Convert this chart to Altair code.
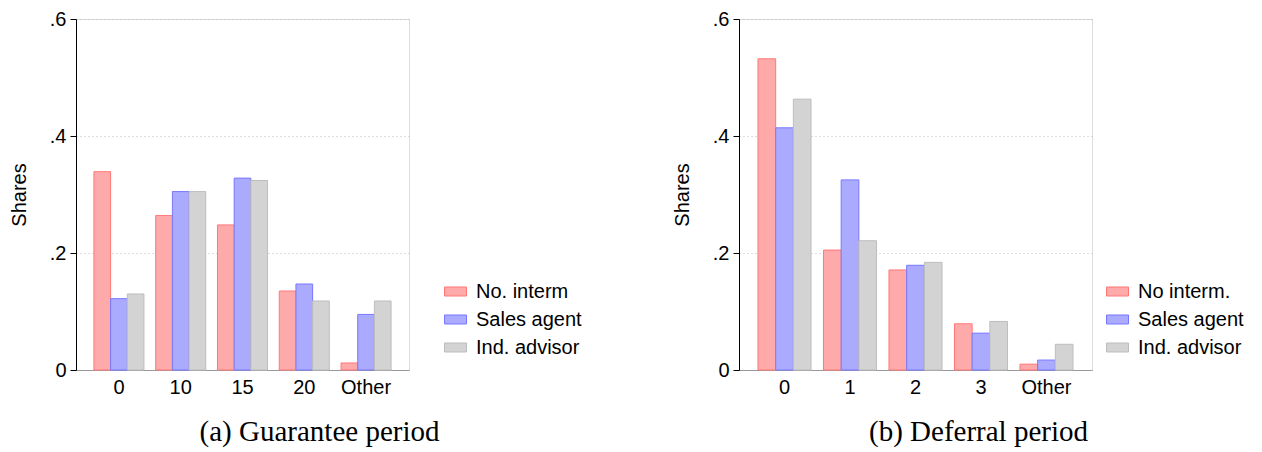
import altair as alt
import pandas as pd

# ---- data ----
cats_a = ["0", "10", "15", "20", "Other"]
cats_b = ["0", "1", "2", "3", "Other"]
groups_a = ["No. interm", "Sales agent", "Ind. advisor"]
groups_b = ["No interm.", "Sales agent", "Ind. advisor"]

no_interm_a = [0.339, 0.264, 0.248, 0.135, 0.012]
sales_agent_a = [0.122, 0.305, 0.328, 0.147, 0.095]
ind_advisor_a = [0.130, 0.305, 0.324, 0.118, 0.118]

no_interm_b = [0.532, 0.205, 0.171, 0.079, 0.010]
sales_agent_b = [0.414, 0.325, 0.179, 0.063, 0.017]
ind_advisor_b = [0.463, 0.221, 0.184, 0.083, 0.044]

y_ticks = [0, 0.2, 0.4, 0.6]
fill_colors = ["#FFAAAA", "#AAAAFF", "#D3D3D3"]
stroke_colors = ["#FF7878", "#7878FF", "#BDBDBD"]

FONT = "Liberation Sans"
SERIF = "Liberation Serif"


def make_df(cats, groups, series):
    rows = []
    for g, vals in zip(groups, series):
        for c, v in zip(cats, vals):
            rows.append({"cat": c, "group": g, "value": v})
    return pd.DataFrame(rows)


def panel(cats, groups, series, width, legend_x, caption, dx):
    df = make_df(cats, groups, series)
    leg = alt.Legend(
        title=None, orient="none", legendX=legend_x, legendY=261,
        symbolType="M-1,-0.41L1,-0.41L1,0.41L-1,0.41Z", symbolSize=484,
        symbolStrokeWidth=1, labelFontSize=20, labelFont=FONT, labelColor="black",
        labelOffset=9, rowPadding=6, padding=0, labelLimit=300,
    )
    return alt.Chart(df).mark_bar(strokeWidth=1).encode(
        x=alt.X("cat:N", sort=cats,
                scale=alt.Scale(paddingInner=0.19, paddingOuter=0.29),
                axis=alt.Axis(title=None, labelAngle=0, ticks=False, grid=False,
                              domainColor="#999999", labelPadding=7,
                              labelFontSize=20, labelFont=FONT, labelColor="black")),
        xOffset=alt.XOffset("group:N", sort=groups,
                            scale=alt.Scale(domain=groups, paddingInner=0, paddingOuter=0)),
        y=alt.Y("value:Q", scale=alt.Scale(domain=[0, 0.6], nice=False),
                axis=alt.Axis(values=y_ticks, title="Shares",
                              labelExpr="datum.value == 0 ? '0' : '.' + format(datum.value*10, '.0f')",
                              grid=True, gridDash=[1, 3], gridColor="#BBBBBB",
                              domainColor="black", tickColor="black", tickSize=6,
                              labelPadding=4, titlePadding=20, titleFontWeight="normal",
                              titleFontSize=20, titleFont=FONT, titleColor="black",
                              labelFontSize=20, labelFont=FONT, labelColor="black")),
        fill=alt.Fill("group:N", sort=groups,
                      scale=alt.Scale(domain=groups, range=fill_colors), legend=leg),
        stroke=alt.Stroke("group:N", sort=groups,
                          scale=alt.Scale(domain=groups, range=stroke_colors), legend=leg),
    ).properties(
        width=width, height=351,
        title=alt.TitleParams(caption, orient="bottom", anchor="middle", frame="group",
                              dx=dx, offset=21, font=SERIF, fontSize=29,
                              fontWeight="normal", color="black"),
    )


left = panel(cats_a, groups_a, [no_interm_a, sales_agent_a, ind_advisor_a],
             333, 35 + 333, "(a) Guarantee period", 77)
right = panel(cats_b, groups_b, [no_interm_b, sales_agent_b, ind_advisor_b],
              353, 14 + 353, "(b) Deferral period", 63)

chart = alt.hconcat(left, right, spacing=88).resolve_scale(
    x="independent", y="independent", xOffset="independent",
    fill="independent", stroke="independent"
).resolve_legend(fill="independent", stroke="independent").properties(
    padding={"left": 0, "top": 0, "right": 0, "bottom": 0}
).configure_view(stroke=None).configure(font=FONT)

chart.save("out.html", embed_options={"renderer": "svg", "actions": False})
